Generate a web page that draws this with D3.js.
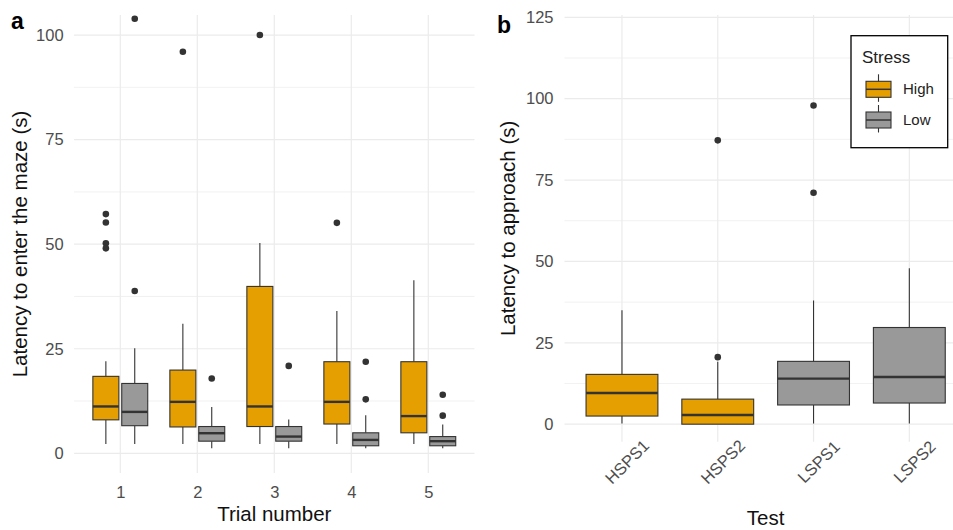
<!DOCTYPE html>
<html>
<head>
<meta charset="utf-8">
<script src="https://cdn.jsdelivr.net/npm/d3@7"></script>
<style>
  body { margin: 0; background: #fff; }
  svg { display: block; font-family: "Liberation Sans", Arial, sans-serif; }
</style>
</head>
<body>
<div id="main"></div>
<script>
// panel a : latency to enter the maze, by trial and stress group
const trials = ["1", "2", "3", "4", "5"];
const stressLevels = ["High", "Low"];
// each row: [lower whisker, Q1, median, Q3, upper whisker]
const mazeHigh = [
    [2.2, 8.0, 11.2, 18.4, 22.0],
    [2.2, 6.3, 12.3, 19.9, 31.0],
    [2.2, 6.4, 11.2, 39.9, 50.3],
    [2.2, 7.0, 12.3, 21.9, 34.0],
    [2.2, 4.9, 8.9, 21.9, 41.4]
];
const mazeHighOutliers = [[57.2, 55.2, 50.2, 49.0], [96.0], [100.0], [55.1], []];
const mazeLow = [
    [2.2, 6.6, 9.9, 16.7, 25.1],
    [1.2, 2.9, 4.8, 6.4, 11.1],
    [1.2, 2.9, 4.0, 6.4, 8.1],
    [1.2, 1.8, 3.2, 4.9, 9.1],
    [1.2, 1.8, 2.9, 4.0, 6.9]
];
const mazeLowOutliers = [[103.9, 38.8], [17.9], [20.9], [21.9, 12.9], [14.0, 9.0]];
const mazeTicks = [0, 25, 50, 75, 100];

// panel b : latency to approach, by test
const tests = ["HSPS1", "HSPS2", "LSPS1", "LSPS2"];
const testStress = ["High", "High", "Low", "Low"];
const approachStats = [
    [0.2, 2.5, 9.6, 15.3, 35.0],
    [0.0, 0.0, 2.8, 7.7, 19.2],
    [0.2, 5.9, 14.0, 19.3, 38.0],
    [0.2, 6.5, 14.5, 29.7, 47.9]
];
const approachOutliers = [[], [87.2, 20.6], [97.9, 71.1], []];
const approachTicks = [0, 25, 50, 75, 100, 125];

const colors = { High: "#E69F00", Low: "#999999" };
const INK = "#333333";
const GRID = "#EBEBEB";

const svg = d3.select("#main").append("svg")
    .attr("width", 953).attr("height", 530);

function drawGrid(g, x, y, majors, top, bottom) {
    const [x0, x1] = x.range();
    const minors = majors.slice(0, -1).map((d, i) => (d + majors[i + 1]) / 2);
    if (majors[majors.length - 1] + 12.5 <= y.domain()[1]) minors.push(majors[majors.length - 1] + 12.5);
    g.selectAll(".minor").data(minors).enter().append("line")
        .attr("x1", x0).attr("x2", x1)
        .attr("y1", d => y(d)).attr("y2", d => y(d))
        .attr("stroke", GRID).attr("stroke-width", 0.7);
    g.selectAll(".major").data(majors).enter().append("line")
        .attr("x1", x0).attr("x2", x1)
        .attr("y1", d => y(d)).attr("y2", d => y(d))
        .attr("stroke", GRID).attr("stroke-width", 1.2);
    g.selectAll(".vmajor").data(x.domain()).enter().append("line")
        .attr("x1", d => x(d)).attr("x2", d => x(d))
        .attr("y1", top).attr("y2", bottom)
        .attr("stroke", GRID).attr("stroke-width", 1.2);
}

function drawBox(g, cx, w, s, outliers, fill, y) {
    const [lo, q1, med, q3, hi] = s;
    g.append("line").attr("x1", cx).attr("x2", cx)
        .attr("y1", y(q3)).attr("y2", y(hi))
        .attr("stroke", INK).attr("stroke-width", 1.1);
    g.append("line").attr("x1", cx).attr("x2", cx)
        .attr("y1", y(q1)).attr("y2", y(lo))
        .attr("stroke", INK).attr("stroke-width", 1.1);
    g.append("rect")
        .attr("x", cx - w / 2).attr("width", w)
        .attr("y", y(q3)).attr("height", Math.max(0, y(q1) - y(q3)))
        .attr("fill", fill).attr("stroke", INK).attr("stroke-width", 1.1);
    g.append("line").attr("x1", cx - w / 2).attr("x2", cx + w / 2)
        .attr("y1", y(med)).attr("y2", y(med))
        .attr("stroke", INK).attr("stroke-width", 2.4);
    g.selectAll(null).data(outliers).enter().append("circle")
        .attr("cx", cx).attr("cy", d => y(d)).attr("r", 3.3)
        .attr("fill", INK);
}

function styleAxis(g) {
    g.select(".domain").remove();
    g.selectAll("text").attr("fill", "#4D4D4D").attr("font-size", 16.5)
        .attr("font-family", "Liberation Sans, Arial, sans-serif");
}

// ---------- panel a ----------
const aTop = 15, aBottom = 473;
const xA = d3.scalePoint().domain(trials).range([74.1, 474.5]).padding(0.6);
const yA = d3.scaleLinear().domain([-4.71, 104.8]).range([aBottom, aTop]);
const panelA = svg.append("g");
drawGrid(panelA.append("g"), xA, yA, mazeTicks, aTop, aBottom);

const slotA = xA.step() * 0.75 / 2;
const dodge = d3.scaleBand().domain(stressLevels).range([-slotA, slotA]);
trials.forEach((t, i) => {
    drawBox(panelA, xA(t) + dodge("High") + dodge.bandwidth() / 2, slotA * 0.9,
        mazeHigh[i], mazeHighOutliers[i], colors.High, yA);
    drawBox(panelA, xA(t) + dodge("Low") + dodge.bandwidth() / 2, slotA * 0.9,
        mazeLow[i], mazeLowOutliers[i], colors.Low, yA);
});

panelA.append("g").attr("transform", "translate(74.1,0)")
    .call(d3.axisLeft(yA).tickValues(mazeTicks).tickSize(0).tickPadding(10.5))
    .call(styleAxis);
panelA.append("g").attr("transform", `translate(0,${aBottom})`)
    .call(d3.axisBottom(xA).tickSize(0).tickPadding(13.5))
    .call(styleAxis);

panelA.append("text").attr("transform", `translate(27,${(aTop + aBottom) / 2}) rotate(-90)`)
    .attr("text-anchor", "middle").attr("font-size", 20.5).attr("fill", "#111")
    .text("Latency to enter the maze (s)");
panelA.append("text").attr("x", (74.1 + 474.5) / 2).attr("y", 521)
    .attr("text-anchor", "middle").attr("font-size", 20.5).attr("fill", "#111")
    .text("Trial number");
panelA.append("text").attr("x", 11).attr("y", 28.5)
    .attr("font-size", 23).attr("font-weight", "bold").attr("fill", "#000")
    .text("a");

// ---------- panel b ----------
const bTop = 15, bBottom = 441.7;
const xB = d3.scalePoint().domain(tests).range([564.5, 966.8]).padding(0.6);
const yB = d3.scaleLinear().domain([-5.38, 125.7]).range([bBottom, bTop]);
const panelB = svg.append("g");
drawGrid(panelB.append("g"), xB, yB, approachTicks, bTop, bBottom);

tests.forEach((t, i) => {
    drawBox(panelB, xB(t), xB.step() * 0.75, approachStats[i], approachOutliers[i],
        colors[testStress[i]], yB);
});

panelB.append("g").attr("transform", "translate(564.5,0)")
    .call(d3.axisLeft(yB).tickValues(approachTicks).tickSize(0).tickPadding(11))
    .call(styleAxis);
panelB.append("g").attr("transform", `translate(0,${bBottom})`)
    .call(d3.axisBottom(xB).tickSize(0))
    .call(styleAxis)
    .call(g => g.selectAll("text")
        .attr("y", null).attr("dy", null)
        .attr("text-anchor", "middle").attr("dominant-baseline", "central")
        .attr("transform", "translate(4.5,20) rotate(-45)"));

panelB.append("text").attr("transform", `translate(515,${(bTop + bBottom) / 2}) rotate(-90)`)
    .attr("text-anchor", "middle").attr("font-size", 20.5).attr("fill", "#111")
    .text("Latency to approach (s)");
panelB.append("text").attr("x", 765.6).attr("y", 525)
    .attr("text-anchor", "middle").attr("font-size", 20.5).attr("fill", "#111")
    .text("Test");
panelB.append("text").attr("x", 497).attr("y", 33.3)
    .attr("font-size", 23).attr("font-weight", "bold").attr("fill", "#000")
    .text("b");

// legend
const legend = svg.append("g").attr("transform", "translate(851,35.7)");
legend.append("rect").attr("width", 96.7).attr("height", 112)
    .attr("fill", "#fff").attr("stroke", "#000").attr("stroke-width", 1.3);
legend.append("text").attr("x", 11).attr("y", 27.6)
    .attr("font-size", 17).attr("fill", "#222").text("Stress");
const keyY = d3.scalePoint().domain(stressLevels).range([53.6, 84.3]);
stressLevels.forEach(s => {
    const k = legend.append("g").attr("transform", `translate(27.5,${keyY(s)})`);
    k.append("line").attr("y1", -15).attr("y2", 12.5)
        .attr("stroke", INK).attr("stroke-width", 1.1);
    k.append("rect").attr("x", -12.5).attr("y", -8).attr("width", 25).attr("height", 16)
        .attr("fill", colors[s]).attr("stroke", INK).attr("stroke-width", 1.1);
    k.append("line").attr("x1", -12.5).attr("x2", 12.5)
        .attr("stroke", INK).attr("stroke-width", 1.5);
    legend.append("text").attr("x", 52).attr("y", keyY(s) + 5.2)
        .attr("font-size", 15).attr("fill", "#222").text(s);
});
</script>
</body>
</html>
